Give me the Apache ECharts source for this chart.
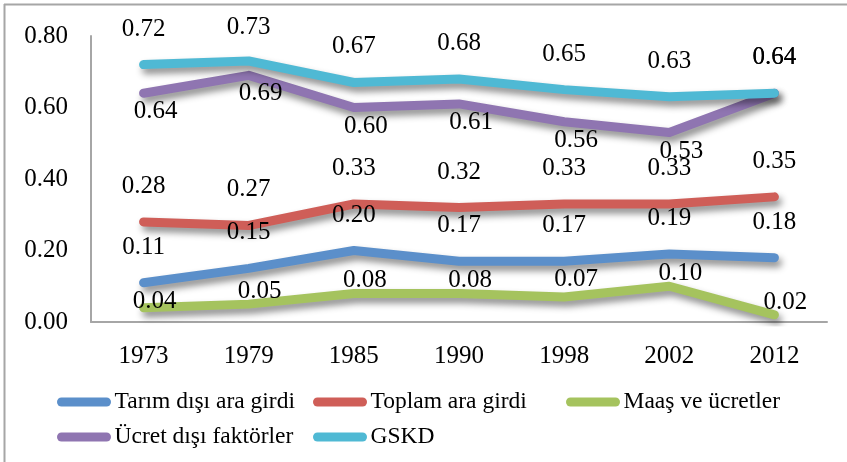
<!DOCTYPE html>
<html>
<head>
<meta charset="utf-8">
<script src="https://cdn.jsdelivr.net/npm/echarts@6/dist/echarts.min.js"></script>
<style>
html,body{margin:0;padding:0;background:#fff;}
#chart{width:847px;height:462px;}
</style>
</head>
<body>
<div id="chart"></div>
<script>
var categories = ['1973', '1979', '1985', '1990', '1998', '2002', '2012'];
var yTicks = [0, 0.2, 0.4, 0.6, 0.8];
var tarim = [0.11, 0.15, 0.20, 0.17, 0.17, 0.19, 0.18];
var toplam = [0.28, 0.27, 0.33, 0.32, 0.33, 0.33, 0.35];
var maas = [0.04, 0.05, 0.08, 0.08, 0.07, 0.10, 0.02];
var ucret = [0.64, 0.69, 0.60, 0.61, 0.56, 0.53, 0.64];
var gskd = [0.72, 0.73, 0.67, 0.68, 0.65, 0.63, 0.64];
var names = ['Tarım dışı ara girdi', 'Toplam ara girdi', 'Maaş ve ücretler', 'Ücret dışı faktörler', 'GSKD'];
var colors = ['#5b8fca', '#cf5e58', '#a5c35e', '#8f75b1', '#4fb9d4'];

var FONT = '"Liberation Serif", "Times New Roman", serif';

function fmt(p) { return p.value.toFixed(2); }

function mkSeries(idx, data, labelCfg, overrides) {
  var d = data.map(function (v, i) {
    var item = { value: v };
    if (overrides && overrides[i]) item.label = overrides[i];
    return item;
  });
  return {
    name: names[idx],
    type: 'line',
    data: d,
    symbol: 'circle',
    symbolSize: 0.1,
    showSymbol: true,
    itemStyle: { color: colors[idx] },
    lineStyle: {
      width: 9, color: colors[idx], cap: 'round', join: 'round',
      shadowColor: 'rgba(0,0,0,0.45)', shadowBlur: 7, shadowOffsetX: 3, shadowOffsetY: 5
    },
    label: Object.assign({
      show: true, formatter: fmt, color: '#000',
      fontFamily: FONT, fontSize: 25
    }, labelCfg),
    emphasis: { disabled: true },
    animation: false
  };
}

var chart = echarts.init(document.getElementById('chart'), null, { renderer: 'canvas' });

function legendItem(name, left, top) {
  return {
    data: [{ name: name, icon: 'path://M5,0 L55,0 A5,5 0 0 1 55,10 L5,10 A5,5 0 0 1 5,0 Z' }],
    left: left, top: top,
    itemWidth: 59, itemHeight: 9,
    padding: 0,
    textStyle: { fontFamily: FONT, fontSize: 23.5, color: '#000', padding: [0, 0, 0, -4] },
    selectedMode: false
  };
}

var option = {
  backgroundColor: '#fff',
  animation: false,
  grid: { left: 91, right: 20, top: 36, bottom: 140, containLabel: false },
  xAxis: {
    type: 'category',
    data: categories,
    boundaryGap: true,
    axisLine: { lineStyle: { color: '#a6a6a6', width: 2 } },
    axisTick: { show: false },
    axisLabel: { fontFamily: FONT, fontSize: 25, color: '#000', margin: 22 },
    splitLine: { show: false }
  },
  yAxis: {
    type: 'value',
    min: yTicks[0], max: yTicks[yTicks.length - 1], interval: 0.2,
    axisLine: { show: true, lineStyle: { color: '#a6a6a6', width: 2 } },
    axisTick: { show: false },
    axisLabel: { fontFamily: FONT, fontSize: 25, color: '#000', margin: 23, formatter: function (v) { return v.toFixed(2); } },
    splitLine: { show: false }
  },
  legend: [
    legendItem(names[0], 57, 390),
    legendItem(names[1], 313, 390),
    legendItem(names[2], 566, 390),
    legendItem(names[3], 57, 425),
    legendItem(names[4], 313, 425)
  ],
  graphic: [
    { type: 'line', shape: { x1: 4, y1: 4.5, x2: 847, y2: 4.5 }, style: { stroke: '#a6a6a6', lineWidth: 2 } },
    { type: 'line', shape: { x1: 4.5, y1: 4, x2: 4.5, y2: 462 }, style: { stroke: '#a6a6a6', lineWidth: 2 } }
  ],
  series: [
    mkSeries(0, tarim, { position: 'top', distance: 23 }),
    mkSeries(1, toplam, { position: 'top', distance: 23 }),
    mkSeries(2, maas, { position: 'top', distance: 0, offset: [11, 0] },
      { 0: { offset: [11, 6] }, 4: { offset: [12, -5] } }),
    mkSeries(3, ucret, { position: 'bottom', distance: 6, offset: [12, 0] },
      { 6: { position: 'top', distance: 23, offset: [0, 0] } }),
    mkSeries(4, gskd, { position: 'top', distance: 23 }, { 1: { distance: 21 } })
  ]
};
chart.setOption(option);
</script>
</body>
</html>
